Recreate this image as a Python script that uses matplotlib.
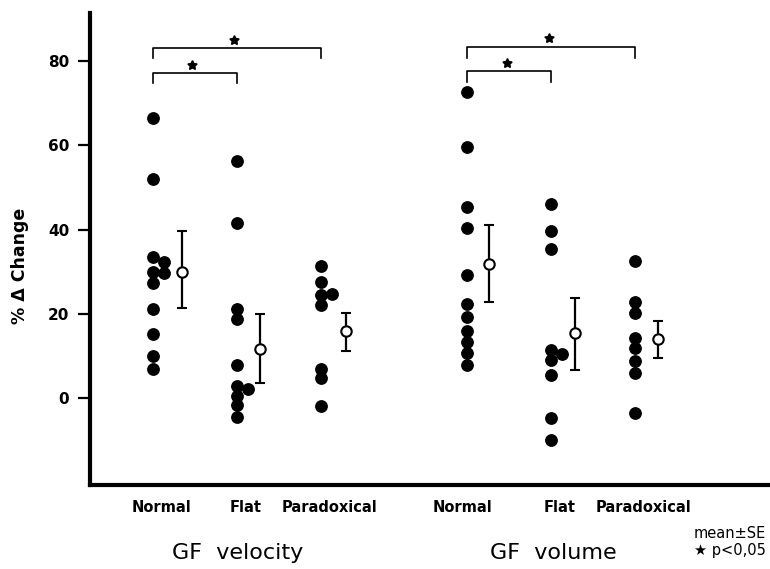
import matplotlib
matplotlib.use("Agg")
import matplotlib.pyplot as plt
import matplotlib.transforms as mtransforms

# values (% change per subject)
groups = ["Normal", "Flat", "Paradoxical", "Normal", "Flat", "Paradoxical"]
vel_normal = [66.4, 52.0, 33.6, 32.2, 30.0, 29.6, 27.4, 21.1, 15.1, 10.0, 7.0]
vel_flat = [56.3, 41.6, 21.1, 18.8, 7.8, 2.9, 2.1, 0.5, -1.7, -4.4]
vel_parad = [31.4, 27.5, 24.5, 24.6, 22.1, 7.0, 4.7, -1.9]
vol_normal = [72.8, 59.7, 45.3, 40.3, 29.2, 22.3, 19.3, 15.8, 13.4, 10.6, 7.8]
vol_flat = [46.2, 39.7, 35.4, 11.4, 10.4, 9.0, 5.5, -4.7, -10.0]
vol_parad = [32.6, 22.9, 20.3, 14.3, 11.8, 8.8, 5.9, -3.6]

means = [30.0, 11.6, 15.8, 31.8, 15.4, 14.0]
se_upper = [39.7, 20.0, 20.3, 41.1, 23.7, 18.4]
se_lower = [21.5, 3.5, 11.2, 22.7, 6.6, 9.6]

# layout: column positions, sideways nudges of overlapping dots
cols = [0.0, 1.0, 2.0, 3.74, 4.74, 5.74]
label_shift = [0.1, 0.1, 0.1, -0.05, 0.1, 0.1]
mean_shift = [0.34, 0.27, 0.3, 0.26, 0.28, 0.27]
nudge = [
    [0, 0, 0, 1, 0, 1, 0, 0, 0, 0, 0],
    [0, 0, 0, 0, 0, 0, 1, 0, 0, 0],
    [0, 0, 0, 1, 0, 0, 0, 0],
    [0] * 11,
    [0, 0, 0, 0, 1, 0, 0, 0, 0],
    [0] * 8,
]
data = [vel_normal, vel_flat, vel_parad, vol_normal, vol_flat, vol_parad]

fig = plt.figure(figsize=(7.7, 5.69), dpi=100)
ax = fig.add_axes([90 / 770, 84 / 569, 682 / 770, 472 / 569])
ax.set_xlim(-0.75, 7.37)
ax.set_ylim(-20.66, 91.45)

for i, vals in enumerate(data):
    xs = [cols[i] + 0.13 * n for n in nudge[i]]
    ax.plot(xs, vals, "o", color="black", markersize=8.2, clip_on=False)
    m = means[i]
    ax.errorbar(cols[i] + mean_shift[i], m,
                yerr=[[m - se_lower[i]], [se_upper[i] - m]],
                fmt="o", color="black", mfc="white", mec="black", mew=1.5,
                markersize=7.5, elinewidth=1.6, capsize=3.6, capthick=1.6)

# significance brackets
brackets = [(0, 2, 83.1, 80.7), (0, 1, 77.1, 74.8),
            (3, 5, 83.4, 80.8), (3, 4, 77.6, 75.0)]
for a, b, top, drop in brackets:
    xa, xb = cols[a], cols[b]
    ax.plot([xa, xa, xb, xb], [drop, top, top, drop], color="black", lw=1.2)
    ax.plot((xa + xb) / 2 - 0.03, top + 2.0, marker=(5, 1, 0), color="black",
            markersize=7)

# axes styling
for s in ["top", "right"]:
    ax.spines[s].set_visible(False)
ax.spines["left"].set_linewidth(3)
ax.spines["bottom"].set_linewidth(3)
ax.set_yticks([0, 20, 40, 60, 80])
ax.tick_params(axis="y", direction="out", length=9, width=1.6, pad=6,
               labelsize=11)
for lab in ax.get_yticklabels():
    lab.set_fontweight("bold")
ax.set_xticks([])

fig.text(20 / 770, 1 - 266 / 569, "% \u0394 Change", rotation=90,
         ha="center", va="center", fontsize=12.5, fontweight="bold")

# category and group labels
trans = mtransforms.blended_transform_factory(ax.transData, ax.transAxes)
for i, name in enumerate(groups):
    ax.text(cols[i] + label_shift[i], -0.047, name, transform=trans,
            ha="center", va="center", fontsize=10.5, fontweight="bold")
fig.text(238 / 770, 1 - 553 / 569, "GF  velocity", ha="center", va="center",
         fontsize=16)
fig.text(553 / 770, 1 - 553 / 569, "GF  volume", ha="center", va="center",
         fontsize=16)
fig.text(766 / 770, 1 - 533 / 569, "mean\u00b1SE", ha="right", va="center",
         fontsize=10.5)
fig.text(766 / 770, 1 - 551 / 569, "\u2605 p<0,05", ha="right", va="center",
         fontsize=10.5)

fig.savefig("out.png", dpi=100)
